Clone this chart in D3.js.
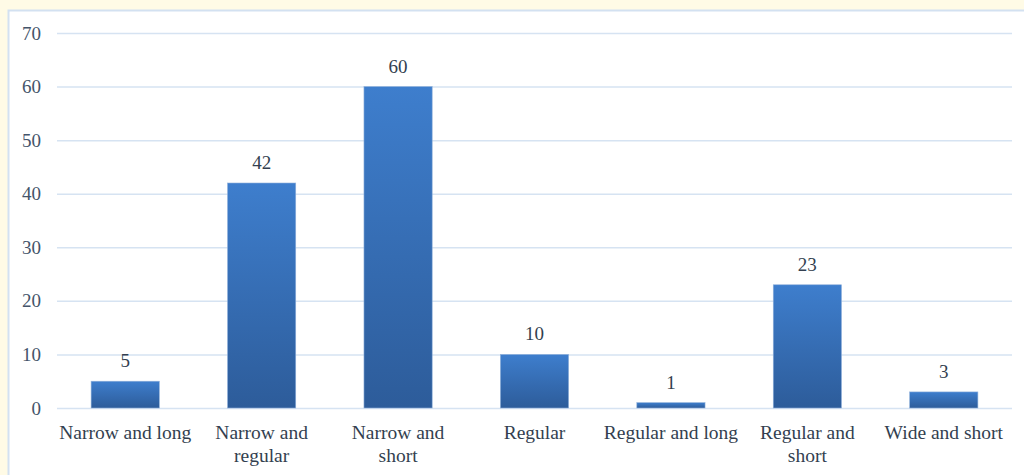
<!DOCTYPE html>
<html>
<head>
<meta charset="utf-8">
<script src="https://cdn.jsdelivr.net/npm/d3@7"></script>
<style>
  html, body { margin: 0; padding: 0; background: #fffbe6; overflow: hidden; }
  svg { display: block; }
</style>
</head>
<body>
<script>

// chart data
var categories = ["Narrow and long", "Narrow and regular", "Narrow and short", "Regular",
                  "Regular and long", "Regular and short", "Wide and short"];
var counts = [5, 42, 60, 10, 1, 23, 3];
var yTicks = [0, 10, 20, 30, 40, 50, 60, 70];

var w = 1024, h = 475;
var pad = { top: 33, bottom: 67, left: 57, right: 12 };
var serif = "Times New Roman, Tinos, Liberation Serif, DejaVu Serif";

var svg = d3.select("body")
            .append("svg")
              .attr("width", w)
              .attr("height", h);

// gradient for the bars, lighter at the top
var grad = svg.append("defs")
              .append("linearGradient")
                .attr("id", "barGrad")
                .attr("x1", 0).attr("y1", 0)
                .attr("x2", 0).attr("y2", 1);
grad.append("stop").attr("offset", "0%").attr("stop-color", "#3e7ecd");
grad.append("stop").attr("offset", "100%").attr("stop-color", "#2d5c9a");

// white plot panel with light border
svg.append("rect")
   .attr("x", 8.5).attr("y", 10.5)
   .attr("width", w + 20).attr("height", h + 20)
   .attr("fill", "#ffffff")
   .attr("stroke", "#d3e1f1")
   .attr("stroke-width", 2);

var xScale = d3.scaleBand()
               .domain(categories)
               .range([pad.left, w - pad.right])
               .paddingInner(0.5)
               .paddingOuter(0.25);

var yScale = d3.scaleLinear()
               .domain([0, 70])
               .range([h - pad.bottom, pad.top]);

// gridlines
svg.selectAll("line.grid")
   .data(yTicks)
   .enter()
 .append("line")
   .attr("class", "grid")
   .attr("x1", pad.left)
   .attr("x2", w - pad.right)
   .attr("y1", function(d) { return yScale(d) + 0.5; })
   .attr("y2", function(d) { return yScale(d) + 0.5; })
   .attr("stroke", "#d6e3f2")
   .attr("stroke-width", 1.5);

// y axis labels
var yAxis = d3.axisLeft(yScale).tickValues(yTicks).tickSize(0).tickPadding(0);
var yG = svg.append("g")
            .attr("transform", "translate(" + 41 + ",0)")
            .call(yAxis)
            .attr("font-family", serif)
            .attr("font-size", 19);
yG.select(".domain").remove();
yG.selectAll("text")
  .attr("fill", "#44546a");

// bars
svg.selectAll("rect.bar")
   .data(counts)
   .enter()
 .append("rect")
   .attr("class", "bar")
   .attr("x", function(d, i) { return xScale(categories[i]); })
   .attr("y", function(d) { return yScale(d); })
   .attr("width", xScale.bandwidth())
   .attr("height", function(d) { return yScale(0) - yScale(d); })
   .attr("fill", "url(#barGrad)")
   .attr("stroke", "#8fb0da")
   .attr("stroke-width", 0.6);

// value labels
svg.selectAll("text.val")
   .data(counts)
   .enter()
 .append("text")
   .attr("class", "val")
   .attr("x", function(d, i) { return xScale(categories[i]) + xScale.bandwidth() / 2; })
   .attr("y", function(d) { return yScale(d) - 14; })
   .attr("text-anchor", "middle")
   .attr("font-family", serif)
   .attr("font-size", 19)
   .attr("fill", "#333f50")
   .text(function(d) { return d; });

// category labels, wrapped like the original
var labelLines = {
  "Narrow and long": ["Narrow and long"],
  "Narrow and regular": ["Narrow and", "regular"],
  "Narrow and short": ["Narrow and", "short"],
  "Regular": ["Regular"],
  "Regular and long": ["Regular and long"],
  "Regular and short": ["Regular and", "short"],
  "Wide and short": ["Wide and short"]
};

var xAxis = d3.axisBottom(xScale).tickSize(0).tickPadding(0);
var xG = svg.append("g")
            .attr("transform", "translate(0," + (yScale(0)) + ")")
            .call(xAxis)
            .attr("font-family", serif)
            .attr("font-size", 19.5);
xG.select(".domain").remove();
xG.selectAll("text").remove();
xG.selectAll(".tick").each(function(c) {
  var t = d3.select(this).append("text")
            .attr("text-anchor", "middle")
            .attr("fill", "#333f50");
  labelLines[c].forEach(function(line, k) {
    t.append("tspan")
     .attr("x", 0)
     .attr("y", 31 + k * 23)
     .text(line);
  });
});

</script>
</body>
</html>
